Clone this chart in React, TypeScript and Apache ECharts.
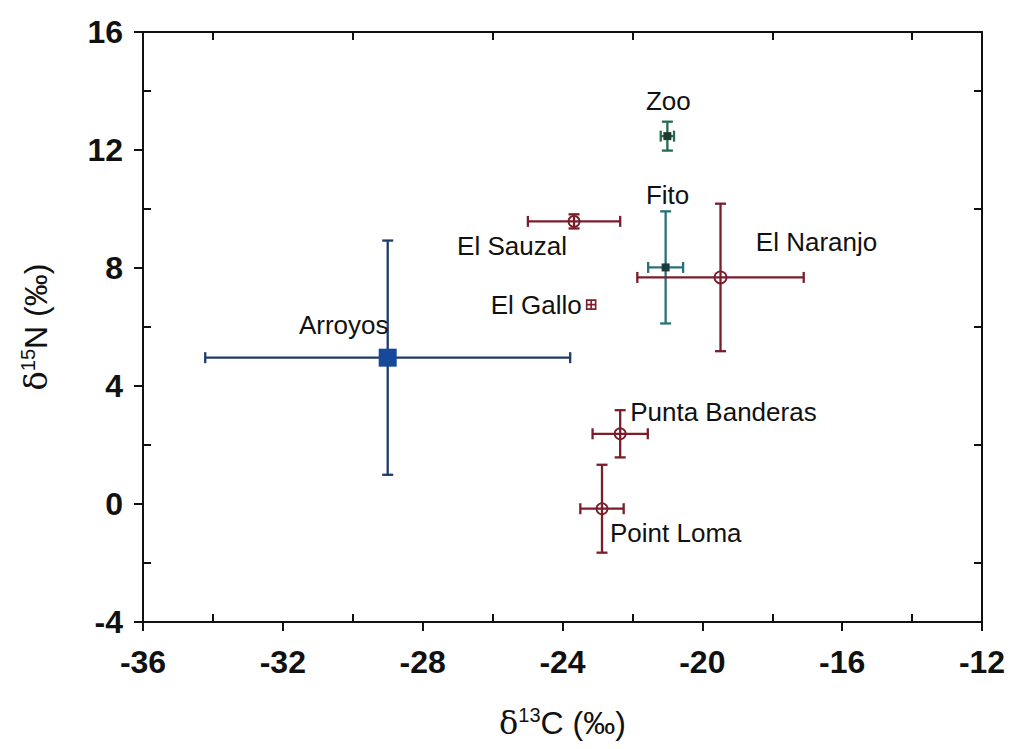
import React, { useEffect, useRef } from "react";
import * as echarts from "echarts";

// ---- data ----
const sites = ["Zoo", "Fito", "El Naranjo", "El Sauzal", "El Gallo", "Arroyos", "Punta Banderas", "Point Loma"];
const d13C = [-21.0, -21.05, -19.48, -23.67, -23.18, -29.0, -22.35, -22.87];
const d15N = [12.47, 8.02, 7.68, 9.58, 6.76, 4.96, 2.38, -0.16];
const errC = [0.19, 0.5, 2.38, 1.32, 0, 5.22, 0.79, 0.62];
const errN = [0.49, 1.9, 2.5, 0.24, 0, 3.97, 0.8, 1.49];

const xMajorTicks = [-36, -32, -28, -24, -20, -16, -12];
const xMinorTicks = [-34, -30, -26, -22, -18, -14];
const yMajorTicks = [-4, 0, 4, 8, 12, 16];
const yMinorTicks = [-2, 2, 6, 10, 14];

// ---- styles ----
const RED = "#7b1d2b";
const barColors = ["#256b4f", "#28717a", RED, RED, RED, "#1f3a68", RED, RED];
const FONT = "'Liberation Sans', Arial, sans-serif";
const TEXT = "#111111";

const hollow = (size: number) => ({
  symbol: "circle",
  symbolSize: size,
  itemStyle: { color: "rgba(255,255,255,0)", borderColor: RED, borderWidth: 1.8, opacity: 1 },
});

const markerStyles: any[] = [
  { symbol: "rect", symbolSize: 8, itemStyle: { color: "#1f3b30", opacity: 1 } },
  { symbol: "rect", symbolSize: 8, itemStyle: { color: "#1f3a3f", opacity: 1 } },
  hollow(12),
  hollow(11),
  {
    symbol: "path://M0,0H10V10H0Z M5,0V10 M0,5H10",
    symbolSize: 9,
    itemStyle: { color: "rgba(255,255,255,0)", borderColor: RED, borderWidth: 1.6, opacity: 1 },
  },
  { symbol: "rect", symbolSize: 18, itemStyle: { color: "#17499a", opacity: 1 } },
  hollow(11),
  hollow(11),
];

const labelPlacement: any[] = [
  { offset: [1, -35], align: "center" },
  { offset: [2, -72], align: "center" },
  { offset: [96, -35], align: "center" },
  { offset: [-62, 25], align: "center" },
  { offset: [-55, 0], align: "center" },
  { offset: [-44, -33], align: "center" },
  { offset: [10, -22], align: "left" },
  { offset: [8, 24], align: "left" },
];

export default function App() {
  const ref = useRef<HTMLDivElement>(null);

  useEffect(() => {
    if (!ref.current) return;
    const chart = echarts.init(ref.current, null, { renderer: "svg" });

    const axisLineStyle = { color: TEXT, width: 2 };
    const titleRich = {
      d: { fontSize: 32, fontFamily: "'DejaVu Serif', serif", color: TEXT },
      s: { fontSize: 20, fontFamily: FONT, color: TEXT, padding: [0, 0, 16, 0] },
      n: { fontSize: 32, fontFamily: FONT, color: TEXT },
    };

    const baseX = { type: "value", min: -36, max: -12, gridIndex: 0, splitLine: { show: false } };
    const baseY = { type: "value", min: -4, max: 16, gridIndex: 0, splitLine: { show: false } };

    const option: any = {
      animation: false,
      backgroundColor: "#ffffff",
      grid: { left: 143, right: 29, top: 32, bottom: 127 },
      xAxis: [
        {
          ...baseX,
          position: "bottom",
          interval: 4,
          axisLine: { show: true, onZero: false, lineStyle: axisLineStyle },
          axisTick: { show: true, inside: false, length: 9, lineStyle: axisLineStyle, customValues: xMajorTicks },
          axisLabel: {
            show: true,
            margin: 24,
            fontSize: 32,
            fontWeight: "bold",
            color: TEXT,
            fontFamily: FONT,
            customValues: xMajorTicks,
          },
          name: "{d|δ}{s|13}{n|C (‰)}",
          nameLocation: "middle",
          nameGap: 83,
          nameTextStyle: { rich: titleRich },
        },
        {
          ...baseX,
          position: "bottom",
          axisLine: { show: false, onZero: false },
          axisTick: { show: true, inside: true, length: 8, lineStyle: axisLineStyle, customValues: xMinorTicks },
          axisLabel: { show: false },
        },
        {
          ...baseX,
          position: "top",
          axisLine: { show: true, onZero: false, lineStyle: axisLineStyle },
          axisTick: { show: true, inside: true, length: 8, lineStyle: axisLineStyle, customValues: xMinorTicks },
          axisLabel: { show: false },
        },
      ],
      yAxis: [
        {
          ...baseY,
          position: "left",
          interval: 4,
          axisLine: { show: true, onZero: false, lineStyle: axisLineStyle },
          axisTick: { show: true, inside: false, length: 9, lineStyle: axisLineStyle, customValues: yMajorTicks },
          axisLabel: {
            show: true,
            margin: 20,
            fontSize: 32,
            fontWeight: "bold",
            color: TEXT,
            fontFamily: FONT,
            customValues: yMajorTicks,
          },
          name: "{d|δ}{s|15}{n|N (‰)}",
          nameLocation: "middle",
          nameRotate: 90,
          nameGap: 89,
          nameTextStyle: { rich: titleRich },
        },
        {
          ...baseY,
          position: "left",
          axisLine: { show: false, onZero: false },
          axisTick: { show: true, inside: true, length: 8, lineStyle: axisLineStyle, customValues: yMinorTicks },
          axisLabel: { show: false },
        },
        {
          ...baseY,
          position: "right",
          axisLine: { show: true, onZero: false, lineStyle: axisLineStyle },
          axisTick: { show: true, inside: true, length: 8, lineStyle: axisLineStyle, customValues: yMinorTicks },
          axisLabel: { show: false },
        },
      ],
      series: [
        {
          type: "custom",
          xAxisIndex: 0,
          yAxisIndex: 0,
          z: 2,
          silent: true,
          encode: { x: 0, y: 1 },
          data: sites.map((_, i) => [d13C[i], d15N[i], errC[i], errN[i]]),
          renderItem: (params: any, api: any) => {
            const x = api.value(0);
            const y = api.value(1);
            const ex = api.value(2);
            const ey = api.value(3);
            const color = barColors[params.dataIndex];
            const style = { stroke: color, lineWidth: 2.3, fill: "none" };
            const cap = 5.5;
            const children: any[] = [];
            if (ex > 0) {
              const l = api.coord([x - ex, y]);
              const r = api.coord([x + ex, y]);
              children.push({ type: "line", shape: { x1: l[0], y1: l[1], x2: r[0], y2: r[1] }, style });
              children.push({ type: "line", shape: { x1: l[0], y1: l[1] - cap, x2: l[0], y2: l[1] + cap }, style });
              children.push({ type: "line", shape: { x1: r[0], y1: r[1] - cap, x2: r[0], y2: r[1] + cap }, style });
            }
            if (ey > 0) {
              const t = api.coord([x, y + ey]);
              const b = api.coord([x, y - ey]);
              children.push({ type: "line", shape: { x1: t[0], y1: t[1], x2: b[0], y2: b[1] }, style });
              children.push({ type: "line", shape: { x1: t[0] - cap, y1: t[1], x2: t[0] + cap, y2: t[1] }, style });
              children.push({ type: "line", shape: { x1: b[0] - cap, y1: b[1], x2: b[0] + cap, y2: b[1] }, style });
            }
            return { type: "group", children };
          },
        },
        {
          type: "scatter",
          xAxisIndex: 0,
          yAxisIndex: 0,
          z: 3,
          itemStyle: { opacity: 1 },
          data: sites.map((name, i) => ({
            name,
            value: [d13C[i], d15N[i]],
            ...markerStyles[i],
            label: {
              show: true,
              formatter: name,
              position: ["50%", "50%"],
              offset: labelPlacement[i].offset,
              align: labelPlacement[i].align,
              verticalAlign: "middle",
              fontSize: 26,
              color: TEXT,
              opacity: 1,
              fontFamily: FONT,
            },
          })),
        },
      ],
    };

    chart.setOption(option);
    return () => chart.dispose();
  }, []);

  return (
    <div
      ref={ref}
      style={{ position: "fixed", left: 0, top: 0, width: 1011, height: 749, background: "#fff" }}
    />
  );
}
